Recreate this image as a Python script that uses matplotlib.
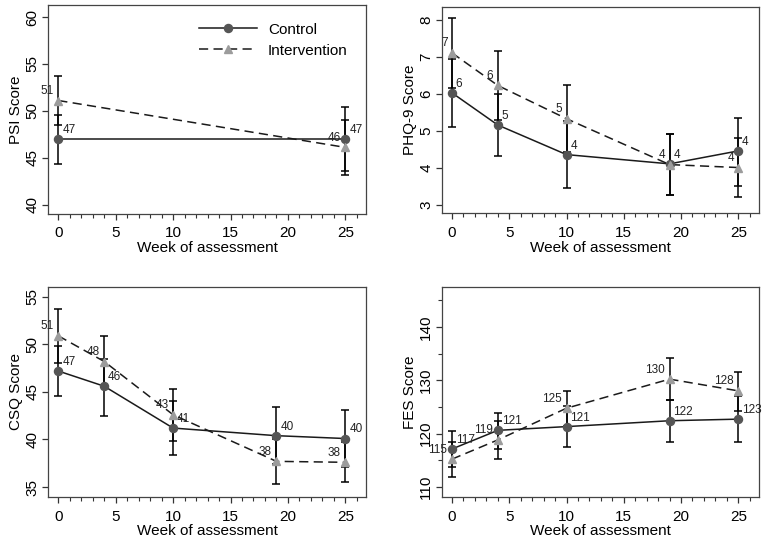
import matplotlib
matplotlib.use('Agg')
import matplotlib.pyplot as plt
from matplotlib.ticker import MultipleLocator
from matplotlib.lines import Line2D

plt.rcParams['font.family'] = ['Liberation Sans', 'DejaVu Sans']
plt.rcParams['font.size'] = 11

# week of assessment
weeks_psi = [0, 25]
weeks = [0, 4, 10, 19, 25]

# PSI
psi_ctrl = [47.0, 47.0]
psi_ctrl_lo = [44.3, 43.55]
psi_ctrl_hi = [49.6, 50.45]
psi_int = [51.1, 46.1]
psi_int_lo = [48.45, 43.2]
psi_int_hi = [53.75, 49.0]

# PHQ-9
phq_ctrl = [6.02, 5.15, 4.35, 4.1, 4.45]
phq_ctrl_lo = [5.10, 4.32, 3.45, 3.25, 3.51]
phq_ctrl_hi = [6.94, 5.98, 5.25, 4.92, 5.35]
phq_int = [7.1, 6.22, 5.32, 4.08, 4.0]
phq_int_lo = [6.16, 5.29, 4.42, 3.27, 3.21]
phq_int_hi = [8.04, 7.15, 6.22, 4.90, 4.8]

# CSQ
csq_ctrl = [47.2, 45.6, 41.2, 40.4, 40.1]
csq_ctrl_lo = [44.6, 42.5, 38.4, 37.4, 37.1]
csq_ctrl_hi = [49.8, 48.5, 44.0, 43.4, 43.1]
csq_int = [50.9, 48.2, 42.6, 37.7, 37.6]
csq_int_lo = [48.0, 45.5, 39.8, 35.3, 35.5]
csq_int_hi = [53.7, 50.9, 45.3, 40.1, 39.7]

# FES
fes_ctrl = [117.1, 120.6, 121.3, 122.4, 122.7]
fes_ctrl_lo = [113.8, 117.1, 117.4, 118.4, 118.4]
fes_ctrl_hi = [120.4, 123.9, 125.2, 126.3, 127.0]
fes_int = [115.2, 118.8, 124.75, 130.2, 128.0]
fes_int_lo = [111.8, 115.25, 121.5, 126.3, 124.25]
fes_int_hi = [118.5, 122.4, 128.0, 134.1, 131.5]

line_col = '#1a1a1a'
ctrl_col = '#555555'
int_col = '#9c9c9c'


def panel(ax, x, c, clo, chi, i, ilo, ihi, ylabel, ylim, ystep, yminor=None):
    cerr = [[a - b for a, b in zip(c, clo)], [b - a for a, b in zip(c, chi)]]
    ierr = [[a - b for a, b in zip(i, ilo)], [b - a for a, b in zip(i, ihi)]]
    ax.errorbar(x, c, yerr=cerr, fmt='none', ecolor='black', elinewidth=1.1,
                capsize=2.8, capthick=1.1, zorder=2)
    ax.errorbar(x, i, yerr=ierr, fmt='none', ecolor='black', elinewidth=1.1,
                capsize=2.8, capthick=1.1, zorder=2)
    l1, = ax.plot(x, c, '-', color=line_col, lw=1.1, zorder=3)
    l2, = ax.plot(x, i, color=line_col, lw=1.1, dashes=(6, 3.5), zorder=3)
    ax.plot(x, c, 'o', color=ctrl_col, ms=5.8, mec=ctrl_col, zorder=4)
    ax.plot(x, i, '^', color=int_col, ms=5.8, mec=int_col, zorder=4)
    for xx, v in zip(x, c):
        ax.annotate('%.0f' % v, (xx, v), xytext=(2.8, 2.2), textcoords='offset points',
                    ha='left', va='bottom', fontsize=8.5, color='#222222')
    for xx, v in zip(x, i):
        ax.annotate('%.0f' % v, (xx, v), xytext=(-3.2, 2.6), textcoords='offset points',
                    ha='right', va='bottom', fontsize=8.5, color='#222222')
    ax.set_xlim(-0.9, 26.8)
    ax.set_ylim(*ylim)
    ax.xaxis.set_major_locator(MultipleLocator(5))
    ax.xaxis.set_minor_locator(MultipleLocator(1))
    ax.yaxis.set_major_locator(MultipleLocator(ystep))
    if yminor:
        ax.yaxis.set_minor_locator(MultipleLocator(yminor))
    ax.tick_params(axis='both', which='major', length=4, width=0.9,
                   labelsize=11, color='#333333')
    ax.tick_params(axis='x', which='major', pad=5)
    ax.tick_params(axis='y', which='major', pad=2)
    ax.tick_params(axis='both', which='minor', length=3, width=0.8, color='#333333')
    for lab in ax.get_yticklabels():
        lab.set_rotation(90)
        lab.set_va('center')
    for s in ax.spines.values():
        s.set_color('#444444')
        s.set_linewidth(0.9)
    ax.set_xlabel('Week of assessment', fontsize=11, labelpad=0.5)
    ax.set_ylabel(ylabel, fontsize=11, labelpad=2)
    return l1, l2


fig = plt.figure(figsize=(7.7, 5.43), dpi=100)
ax1 = fig.add_axes([0.0623, 0.606, 0.413, 0.385])
ax2 = fig.add_axes([0.5736, 0.607, 0.412, 0.380])
ax3 = fig.add_axes([0.0623, 0.0847, 0.413, 0.387])
ax4 = fig.add_axes([0.5736, 0.0847, 0.412, 0.387])

panel(ax1, weeks_psi, psi_ctrl, psi_ctrl_lo, psi_ctrl_hi,
      psi_int, psi_int_lo, psi_int_hi, 'PSI Score', (39, 61.3), 5)
panel(ax2, weeks, phq_ctrl, phq_ctrl_lo, phq_ctrl_hi,
      phq_int, phq_int_lo, phq_int_hi, 'PHQ-9 Score', (2.76, 8.34), 1)
panel(ax3, weeks, csq_ctrl, csq_ctrl_lo, csq_ctrl_hi,
      csq_int, csq_int_lo, csq_int_hi, 'CSQ Score', (33.95, 56.05), 5)
panel(ax4, weeks, fes_ctrl, fes_ctrl_lo, fes_ctrl_hi,
      fes_int, fes_int_lo, fes_int_hi, 'FES Score', (108.1, 147.5), 10, 5)

# legend handles with markers
lh1 = Line2D([], [], color=line_col, lw=1.1, marker='o', ms=5.8,
             mfc=ctrl_col, mec=ctrl_col)
lh2 = Line2D([], [], color=line_col, lw=1.1, dashes=(6, 3.5), marker='^', ms=5.8,
             mfc=int_col, mec=int_col)
ax1.legend([lh1, lh2], ['Control', 'Intervention'], loc='upper left',
           bbox_to_anchor=(0.475, 0.915), frameon=False, borderpad=0,
           borderaxespad=0, handlelength=3.8, handletextpad=0.7,
           labelspacing=0.45, fontsize=11)

fig.savefig('out.png', dpi=100)
